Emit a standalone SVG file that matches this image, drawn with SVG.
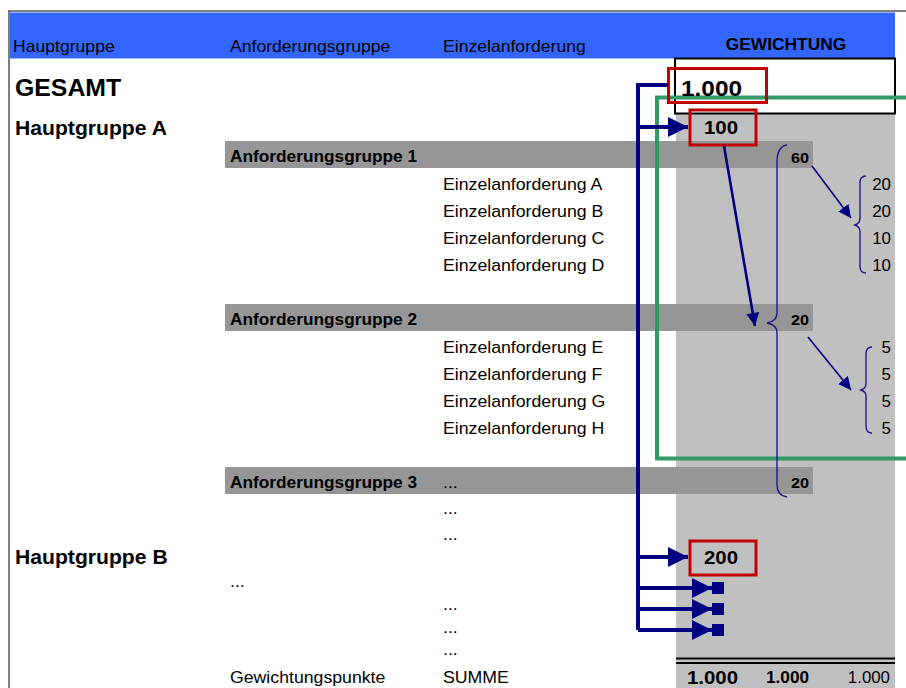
<svg xmlns="http://www.w3.org/2000/svg" width="906" height="688" viewBox="0 0 906 688">
<defs>
<style>
text{font-family:"Liberation Sans",Arial,sans-serif;fill:#000}
.h{font-size:16.3px}
.b{font-size:16.4px}
.ag{font-size:16px;font-weight:bold}
.hg{font-size:19.6px;font-weight:bold}
.v{font-size:15px;font-weight:bold;text-anchor:end}
.r{font-size:15.7px;text-anchor:end}
.red{fill:none;stroke:#C00000;stroke-width:3}
.nav{fill:none;stroke:#000080;stroke-width:4}
.thin{fill:none;stroke:#000080;stroke-width:1.6}
.brace{fill:none;stroke:#1a1a8c;stroke-width:1.4}
</style>
<marker id="ah" viewBox="0 0 10 10" refX="10" refY="5" markerWidth="5.2" markerHeight="5" orient="auto" markerUnits="strokeWidth"><path d="M0,0L10,5L0,10z" fill="#000080"/></marker>
<marker id="am" viewBox="0 0 10 10" refX="10" refY="5" markerWidth="5.5" markerHeight="5" orient="auto" markerUnits="strokeWidth"><path d="M0,0L10,5L0,10z" fill="#000080"/></marker>
<marker id="at" viewBox="0 0 10 10" refX="10" refY="5" markerWidth="8" markerHeight="8" orient="auto" markerUnits="strokeWidth"><path d="M0,0L10,5L0,10z" fill="#000080"/></marker>
</defs>

<g id="background">
<line x1="8" y1="11" x2="906" y2="11" stroke="#555" stroke-width="1.5"/>
<line x1="9" y1="11" x2="9" y2="688" stroke="#555" stroke-width="1.5"/>
<rect x="10" y="12.5" width="885" height="46" fill="#3366FF"/>
<rect x="676" y="113" width="219" height="575" fill="#C0C0C0"/>
<rect x="675" y="58.5" width="220" height="55" fill="#fff" stroke="#000" stroke-width="2"/>
<line x1="676" y1="658.5" x2="895" y2="658.5" stroke="#000" stroke-width="2"/>
<line x1="676" y1="663" x2="895" y2="663" stroke="#000" stroke-width="2"/>
</g>

<g id="rows">
<rect id="ag1-bar" x="225" y="141" width="588" height="27" fill="#969696"/>
<rect id="ag2-bar" x="225" y="304" width="588" height="27" fill="#969696"/>
<rect id="ag3-bar" x="225" y="467" width="588" height="27" fill="#969696"/>
</g>

<g id="frame-green">
<path d="M906,97.5H657V458.5H906" fill="none" stroke="#339966" stroke-width="4"/>
</g>

<g id="boxes">
<rect id="box-gesamt" class="red" x="668.5" y="68.5" width="98" height="34"/>
<rect id="box-a" class="red" x="690" y="110" width="66" height="35"/>
<rect id="box-b" class="red" x="690" y="541" width="66" height="34"/>
<rect x="712" y="582" width="12" height="12" fill="#000080"/>
<rect x="712" y="603" width="12" height="12" fill="#000080"/>
<rect x="712" y="624" width="12" height="12" fill="#000080"/>
</g>

<g id="connectors">
<path class="nav" d="M668,85H638V630"/>
<path class="nav" d="M638,127H688" marker-end="url(#ah)"/>
<path class="nav" d="M638,557H688" marker-end="url(#ah)"/>
<path class="nav" d="M638,588H712" marker-end="url(#ah)"/>
<path class="nav" d="M638,609H712" marker-end="url(#ah)"/>
<path class="nav" d="M638,630H712" marker-end="url(#ah)"/>
<path d="M724,146L755,326" fill="none" stroke="#000080" stroke-width="2.6" marker-end="url(#am)"/>
<path class="thin" d="M812,166L851,218" marker-end="url(#at)"/>
<path class="thin" d="M808,337L851,390" marker-end="url(#at)"/>
<path class="brace" d="M787,145C780,146 777,152 777,162V313C777,319 773,322 767,323C773,324 777,327 777,333V485C777,492 780,496 787,497"/>
<path class="brace" d="M866,176C862,176 860,179 860,183V218C860,222 858,224 855,225C858,226 860,228 860,232V266C860,270 862,273 866,273"/>
<path class="brace" d="M872,347C868,347 866,350 866,354V384C866,388 864,389 861,390C864,391 866,392 866,396V426C866,430 868,433 872,433"/>
</g>

<g id="texts" transform="scale(1.08 1)">
<g id="header">
<text class="h" x="12.04" y="52">Hauptgruppe</text>
<text class="h" x="212.96" y="52">Anforderungsgruppe</text>
<text class="h" x="410.19" y="52">Einzelanforderung</text>
<text x="727.78" y="50" style="font-size:16.1px;font-weight:bold;text-anchor:middle">GEWICHTUNG</text>
</g>
<g id="gesamt">
<text x="13.89" y="96" style="font-size:23px;font-weight:bold">GESAMT</text>
<text x="630.56" y="96" style="font-size:22.6px;font-weight:bold">1.000</text>
</g>
<g id="hauptgruppe-a">
<text class="hg" x="13.89" y="135">Hauptgruppe A</text>
<text x="651.85" y="134" style="font-size:18.9px;font-weight:bold">100</text>
</g>
<g id="ag1">
<text class="ag" x="212.96" y="162">Anforderungsgruppe 1</text>
<text class="v" x="749.07" y="163">60</text>
<text class="b" x="410.19" y="190">Einzelanforderung A</text>
<text class="b" x="410.19" y="217">Einzelanforderung B</text>
<text class="b" x="410.19" y="244">Einzelanforderung C</text>
<text class="b" x="410.19" y="271">Einzelanforderung D</text>
<text class="r" x="825" y="190">20</text>
<text class="r" x="825" y="217">20</text>
<text class="r" x="825" y="244">10</text>
<text class="r" x="825" y="271">10</text>
</g>
<g id="ag2">
<text class="ag" x="212.96" y="325">Anforderungsgruppe 2</text>
<text class="v" x="749.07" y="325">20</text>
<text class="b" x="410.19" y="353">Einzelanforderung E</text>
<text class="b" x="410.19" y="380">Einzelanforderung F</text>
<text class="b" x="410.19" y="407">Einzelanforderung G</text>
<text class="b" x="410.19" y="434">Einzelanforderung H</text>
<text class="r" x="825" y="353">5</text>
<text class="r" x="825" y="380">5</text>
<text class="r" x="825" y="407">5</text>
<text class="r" x="825" y="434">5</text>
</g>
<g id="ag3">
<text class="ag" x="212.96" y="488">Anforderungsgruppe 3</text>
<text class="b" x="410.19" y="488">...</text>
<text class="v" x="749.07" y="488">20</text>
<text class="b" x="410.19" y="514">...</text>
<text class="b" x="410.19" y="540">...</text>
</g>
<g id="hauptgruppe-b">
<text class="hg" x="13.89" y="564">Hauptgruppe B</text>
<text x="651.85" y="564" style="font-size:18.9px;font-weight:bold">200</text>
<text class="b" x="212.96" y="587">...</text>
<text class="b" x="410.19" y="610">...</text>
<text class="b" x="410.19" y="633">...</text>
<text class="b" x="410.19" y="655">...</text>
</g>
<g id="summe">
<text class="b" x="212.96" y="683">Gewichtungspunkte</text>
<text class="b" x="410.19" y="683">SUMME</text>
<text x="636.11" y="684" style="font-size:18.9px;font-weight:bold">1.000</text>
<text x="749.07" y="683" style="font-size:15.9px;font-weight:bold;text-anchor:end">1.000</text>
<text x="824.07" y="683" style="font-size:15.6px;text-anchor:end">1.000</text>
</g>
</g>
</svg>
